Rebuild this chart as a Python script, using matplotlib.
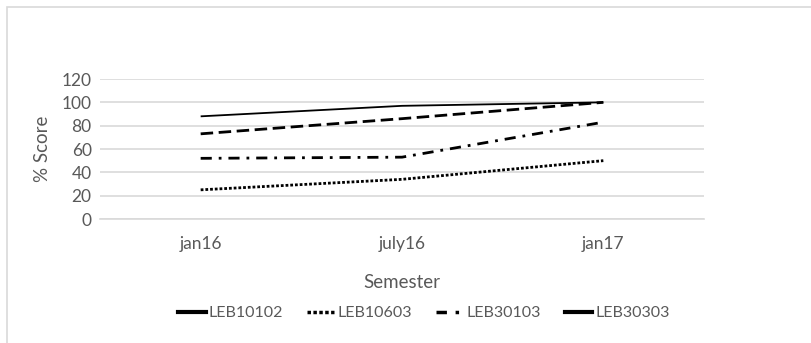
import matplotlib.pyplot as plt
from matplotlib.lines import Line2D
from matplotlib.patches import Rectangle

# Data
semesters = ['jan16', 'july16', 'jan17']
leb10102 = [88, 97, 100]
leb10603 = [25, 34, 50]
leb30103 = [52, 53, 83]
leb30303 = [73, 86, 100]

plt.rcParams['font.family'] = ['Lato', 'DejaVu Sans']
gray = '#595959'

fig = plt.figure(figsize=(8.11, 3.43), dpi=100)
ax = fig.add_axes([100 / 811, (343 - 219) / 343, 604 / 811, 140 / 343])

# chart border
fig.patches.append(Rectangle((7 / 811, -0.1), 1.2, (343 - 7) / 343 + 0.1,
                             transform=fig.transFigure, fill=False,
                             edgecolor='#d9d9d9', linewidth=1.2))

x = range(len(semesters))
ax.plot(x, leb10102, color='black', lw=1.3, solid_capstyle='butt')
ax.plot(x, leb10603, color='black', lw=2.0, dashes=(1, 0.7), dash_capstyle='butt')
ax.plot(x, leb30103, color='black', lw=2.0, dashes=(4, 2.5, 1, 2.5), dash_capstyle='butt')
ax.plot(x, leb30303, color='black', lw=2.0, dashes=(4.5, 2), dash_capstyle='butt')

ax.set_xlim(-0.5, 2.5)
ax.set_ylim(0, 120)
ax.set_yticks(range(0, 121, 20))
ax.set_xticks(list(x))
ax.set_xticklabels(semesters)
ax.grid(axis='y', color='#d9d9d9', lw=1.2)
ax.set_axisbelow(True)
for s in ax.spines.values():
    s.set_visible(False)
ax.spines['bottom'].set_visible(True)
ax.spines['bottom'].set_color('#d9d9d9')
ax.spines['bottom'].set_linewidth(1.2)
ax.tick_params(length=0, colors=gray, labelsize=12.5, pad=12)
ax.tick_params(axis='y', pad=6)
ax.set_ylabel('% Score', color=gray, fontsize=13.5, labelpad=8)
ax.set_xlabel('Semester', color=gray, fontsize=13.5, labelpad=16)

handles = [
    Line2D([], [], color='black', lw=3),
    Line2D([], [], color='black', lw=2.5, dashes=(1, 0.7)),
    Line2D([], [], color='black', lw=2.5, dashes=(3, 2.5, 1, 2.5)),
    Line2D([], [], color='black', lw=3),
]
leg = fig.legend(handles, ['LEB10102', 'LEB10603', 'LEB30103', 'LEB30303'],
                 loc='center', bbox_to_anchor=(424 / 811, 1 - 313 / 343), ncol=4,
                 frameon=False, fontsize=11.5, handlelength=1.7, handletextpad=0.2,
                 columnspacing=1.5, labelcolor=gray)

fig.savefig('out.png', dpi=100)
